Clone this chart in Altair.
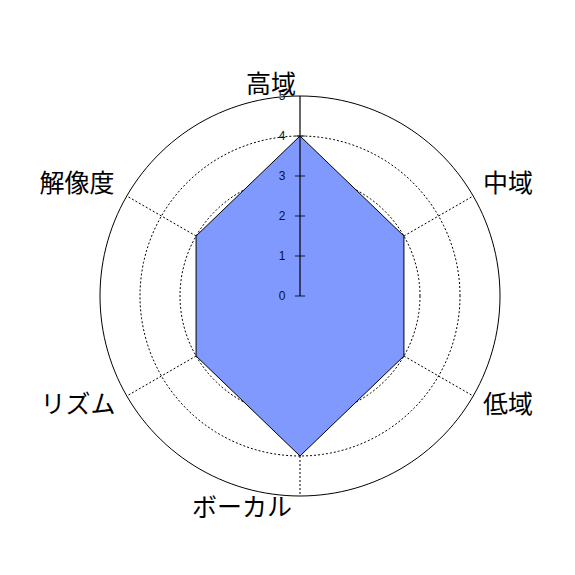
import math
import altair as alt
import pandas as pd

categories = ["高域", "中域", "低域", "ボーカル", "リズム", "解像度"]
values = [4, 3, 3, 4, 3, 3]
angles_deg = [90, 30, -30, -90, -150, 150]
tick_labels = [0, 1, 2, 3, 4, 5]
r_max = 5
dotted_rings = [1, 2, 3, 4]

FILL = "#8099FF"
FONT = "Noto Sans CJK JP"
LSIZE = 25

def pol(r, a):
    t = math.radians(a)
    return r * math.cos(t), r * math.sin(t)

# rings
ring_rows = []
for rr in dotted_rings + [r_max]:
    for i in range(0, 361, 2):
        x, y = pol(rr, i)
        ring_rows.append({"ring": rr, "i": i, "x": x, "y": y, "solid": rr == r_max})
rings = pd.DataFrame(ring_rows)

# spokes (except top, which is the axis)
spoke_rows = []
for c, a in zip(categories, angles_deg):
    if a == 90:
        continue
    x, y = pol(r_max, a)
    spoke_rows.append({"cat": c, "x": 0.0, "y": 0.0, "x2": x, "y2": y})
spokes = pd.DataFrame(spoke_rows)

# polygon
poly_rows = []
for k, (c, v, a) in enumerate(zip(categories + [categories[0]], values + [values[0]], angles_deg + [angles_deg[0]])):
    x, y = pol(v, a)
    poly_rows.append({"cat": c, "o": k, "x": x, "y": y})
poly = pd.DataFrame(poly_rows)

# axis
axis_df = pd.DataFrame({"x": [0.0], "y": [0.0], "x2": [0.0], "y2": [float(r_max)]})
ticks = pd.DataFrame({"v": tick_labels, "x": [0.0] * len(tick_labels), "y": [float(t) for t in tick_labels]})

# labels
lab_rows = []
for c, a in zip(categories, angles_deg):
    x, y = pol(5.95, a)
    lab_rows.append({"cat": c, "x": x, "y": y, "a": a})
labels = pd.DataFrame(lab_rows)

xs = alt.Scale(domain=[-7.3, 6.675], nice=False, zero=False)
ys = alt.Scale(domain=[-6.775, 7.2], nice=False, zero=False)
X = alt.X("x:Q", scale=xs, axis=None)
Y = alt.Y("y:Q", scale=ys, axis=None)

dotted = alt.Chart(rings[~rings.solid]).mark_line(
    stroke="black", strokeWidth=1, strokeDash=[2, 2]
).encode(x=X, y=Y, detail="ring:N", order="i:Q")
solid = alt.Chart(rings[rings.solid]).mark_line(
    stroke="black", strokeWidth=1
).encode(x=X, y=Y, detail="ring:N", order="i:Q")
spk = alt.Chart(spokes).mark_rule(stroke="black", strokeWidth=1, strokeDash=[2, 2]).encode(
    x=X, y=Y, x2="x2:Q", y2="y2:Q"
)
polygon = alt.Chart(poly).mark_line(
    fill=FILL, stroke="black", strokeWidth=1, fillOpacity=1
).encode(x=X, y=Y, order="o:Q")
ax = alt.Chart(axis_df).mark_rule(stroke="black", strokeWidth=1.2).encode(
    x=X, y=Y, x2="x2:Q", y2="y2:Q"
)
tk = alt.Chart(ticks[ticks.v < r_max]).mark_tick(
    orient="horizontal", size=10, thickness=1.2, color="black"
).encode(x=X, y=Y)
tkl = alt.Chart(ticks).mark_text(
    align="center", baseline="middle", dx=-18, fontSize=12, font="Liberation Sans", color="#111"
).encode(x=X, y=Y, text="v:N")

def lab(sub, dx, dy):
    return alt.Chart(sub).mark_text(
        align="center", baseline="middle", fontSize=LSIZE, font=FONT, color="black", dx=dx, dy=dy
    ).encode(x=X, y=Y, text="cat:N")

lab_rt = lab(labels[labels.a == 30], 2, 7)
lab_rb = lab(labels[labels.a == -30], 2, -10)
lab_lb = lab(labels[labels.a == -150], -16, -10)
lab_lt = lab(labels[labels.a == 150], -17, 7)
lab_top = lab(labels[labels.a == 90], -29, 27)
lab_bot = lab(labels[labels.a == -90], -58, -26)

chart = alt.layer(
    dotted, spk, solid, polygon, ax, tk, tkl, lab_rt, lab_rb, lab_lb, lab_lt, lab_top, lab_bot
).properties(
    width=559, height=559, autosize=alt.AutoSizeParams(type="none"), padding=0
).configure_view(stroke=None)

chart.save("out.html", embed_options={"renderer": "svg", "actions": False})
